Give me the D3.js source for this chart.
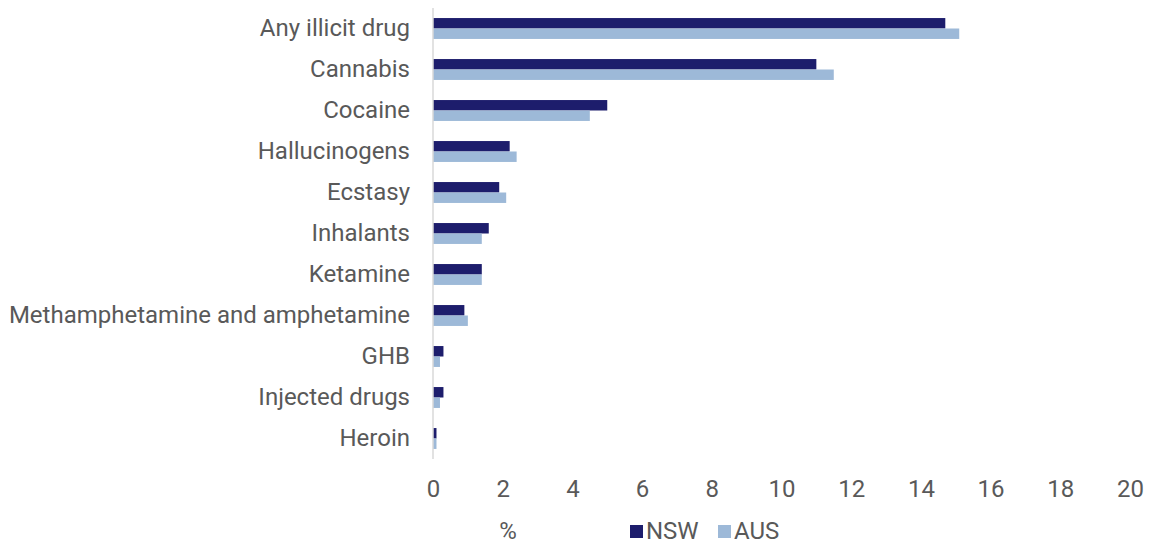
<!DOCTYPE html>
<html>
<head>
<meta charset="utf-8">
<script src="https://cdn.jsdelivr.net/npm/d3@7"></script>
<style>
  html, body { margin: 0; padding: 0; background: #fff; }
  svg text { font-family: Roboto, "Noto Sans", sans-serif; fill: #595959; }
</style>
</head>
<body>
<svg id="chart" width="1152" height="544"></svg>
<script>
// Recent drug use by substance, NSW vs Australia (%)
const categories = [
  "Any illicit drug", "Cannabis", "Cocaine", "Hallucinogens", "Ecstasy",
  "Inhalants", "Ketamine", "Methamphetamine and amphetamine", "GHB",
  "Injected drugs", "Heroin"
];
const nswValues = [14.7, 11.0, 5.0, 2.2, 1.9, 1.6, 1.4, 0.9, 0.3, 0.3, 0.1];
const ausValues = [15.1, 11.5, 4.5, 2.4, 2.1, 1.4, 1.4, 1.0, 0.2, 0.2, 0.1];
const seriesNames = ["NSW", "AUS"];
const seriesColors = ["#1d1d6c", "#9db9d8"];
const xTicks = [0, 2, 4, 6, 8, 10, 12, 14, 16, 18, 20];

const svg = d3.select("#chart");
const margin = { top: 8, left: 433, right: 22, bottom: 85 };
const width = 1152 - margin.left - margin.right;
const height = 544 - margin.top - margin.bottom;
const fontSize = 24;

const x = d3.scaleLinear().domain([0, 20]).range([0, width]);
const y = d3.scaleBand().domain(categories).range([0, height]).paddingInner(0.49).paddingOuter(0.245);
const sub = d3.scaleBand().domain(seriesNames).range([0, y.bandwidth()]);

const g = svg.append("g").attr("transform", `translate(${margin.left},${margin.top})`);

const rows = categories.map((c, i) => ({ c, vals: [nswValues[i], ausValues[i]] }));

const rowG = g.selectAll("g.row").data(rows).join("g")
  .attr("class", "row")
  .attr("transform", d => `translate(0,${y(d.c)})`);

rowG.selectAll("rect").data(d => d.vals.map((v, k) => ({ v, k }))).join("rect")
  .attr("x", 0)
  .attr("y", d => sub(seriesNames[d.k]))
  .attr("width", d => x(d.v))
  .attr("height", sub.bandwidth())
  .attr("fill", d => seriesColors[d.k]);

// Vertical category axis line
g.append("line")
  .attr("x1", 0).attr("x2", 0)
  .attr("y1", 0).attr("y2", height)
  .attr("stroke", "#d9d9d9").attr("stroke-width", 1.5);

// Category labels
const yAxis = g.append("g").call(d3.axisLeft(y).tickSize(0).tickPadding(23));
yAxis.select(".domain").remove();
yAxis.selectAll("text").attr("font-size", fontSize).style("fill", "#595959")
  .style("font-family", "Roboto, sans-serif");

// Value axis labels
const xAxis = g.append("g").attr("transform", `translate(0,${height})`)
  .call(d3.axisBottom(x).tickValues(xTicks).tickSize(0).tickPadding(21).tickFormat(d3.format("d")));
xAxis.select(".domain").remove();
xAxis.selectAll("text").attr("font-size", fontSize).style("fill", "#595959")
  .style("font-family", "Roboto, sans-serif");

// Axis title
svg.append("text").attr("x", 508).attr("y", 539).attr("text-anchor", "middle")
  .attr("font-size", fontSize).text("%");

// Legend
const legend = svg.append("g");
const legendX = [630, 718];
seriesNames.forEach((name, k) => {
  legend.append("rect").attr("x", legendX[k]).attr("y", 525).attr("width", 13).attr("height", 13)
    .attr("fill", seriesColors[k]);
  legend.append("text").attr("x", legendX[k] + 16).attr("y", 539)
    .attr("font-size", fontSize).text(name);
});
</script>
</body>
</html>
